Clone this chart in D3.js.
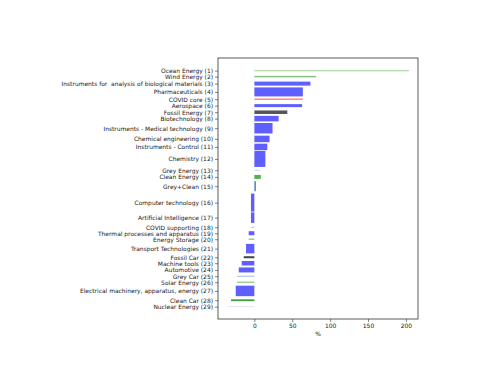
<!DOCTYPE html>
<html>
<head>
<meta charset="utf-8">
<script src="https://cdn.jsdelivr.net/npm/d3@7"></script>
<style>
  body { margin: 0; background: #fff; }
  text { font-family: "DejaVu Sans", sans-serif; }
</style>
</head>
<body>
<div id="chart"></div>
<script>
// categories, top to bottom
var categories = [
  "Ocean Energy (1)", "Wind Energy (2)", "Instruments for  analysis of biological materials (3)",
  "Pharmaceuticals (4)", "COVID core (5)", "Aerospace (6)", "Fossil Energy (7)", "Biotechnology (8)",
  "Instruments - Medical technology (9)", "Chemical engineering (10)", "Instruments - Control (11)",
  "Chemistry (12)", "Grey Energy (13)", "Clean Energy (14)", "Grey+Clean (15)",
  "Computer technology (16)", "Artificial Intelligence (17)", "COVID supporting (18)",
  "Thermal processes and apparatus (19)", "Energy Storage (20)", "Transport Technologies (21)",
  "Fossil Car (22)", "Machine tools (23)", "Automotive (24)", "Grey Car (25)", "Solar Energy (26)",
  "Electrical machinery, apparatus, energy (27)", "Clean Car (28)", "Nuclear Energy (29)"
];
// growth, %
var values = [204, 81.5, 74, 64, 64, 63, 43.5, 32, 24, 20, 17, 14.5, 7.5, 8.5, 2,
  -4.5, -4.5, -4, -7.5, -7.5, -11, -14, -16.7, -20.6, -22.8, -22.8, -24.6, -30.8, -36];
// bar weight (thickness) and cumulative slot along the category axis
var weights = [1.5, 1.5, 4, 9, 1.5, 3, 3.5, 5.5, 10.5, 6.5, 6.5, 16, 1, 4, 10,
  18, 10.5, 1, 4, 1.5, 9.5, 2, 4.5, 5, 1, 1.5, 10.5, 1.8, 1];
var slots = [0, 6, 13, 21.3, 28.6, 35, 41.6, 48, 57.6, 68.3, 76.3, 88.3, 99.6, 106.3, 115.6,
  132, 147, 156.6, 162.6, 168.6, 178, 186.6, 192.6, 199.3, 205.6, 211.6, 220.3, 229.6, 236];
var xTicks = [0, 50, 100, 150, 200];

var colors = ["#b8ddb2", "#85c485", "#5f5fff", "#5f5fff", "#ff8585", "#5f5fff", "#555555", "#5f5fff",
  "#5f5fff", "#5f5fff", "#5f5fff", "#5f5fff", "#cdd6e6", "#55b055", "#4f7fbf",
  "#5f5fff", "#5f5fff", "#ff9a9a", "#5f5fff", "#95cf95", "#5f5fff", "#444444", "#5f5fff", "#5f5fff",
  "#aab8e2", "#9fd29f", "#5f5fff", "#3e9e3e", "#e6e6f4"];

var W = 480, H = 384;
var m = { left: 218, right: 418, top: 58, bottom: 319 };
var fs = 5.95;

var svg = d3.select("#chart").append("svg").attr("width", W).attr("height", H);

var xMin = d3.min(values), xMax = d3.max(values), xPad = (xMax - xMin) * 0.05;
var x = d3.scaleLinear().domain([xMin - xPad, xMax + xPad]).range([m.left, m.right]);

var yLo = slots[0] - weights[0] / 2, yHi = slots[slots.length - 1] + weights[weights.length - 1] / 2;
var yPad = (yHi - yLo) * 0.05;
var y = d3.scaleLinear().domain([yLo - yPad, yHi + yPad]).range([m.top, m.bottom]);

var data = categories.map(function (c, i) {
  return { name: c, v: values[i], w: weights[i], s: slots[i], color: colors[i] };
});

// bars
svg.append("g").selectAll("rect").data(data).enter().append("rect")
  .attr("x", function (d) { return x(Math.min(0, d.v)); })
  .attr("width", function (d) { return Math.abs(x(d.v) - x(0)); })
  .attr("y", function (d) { return y(d.s - d.w / 2); })
  .attr("height", function (d) { return y(d.s + d.w / 2) - y(d.s - d.w / 2); })
  .attr("fill", function (d) { return d.color; });

// frame
svg.append("rect").attr("x", m.left).attr("y", m.top)
  .attr("width", m.right - m.left).attr("height", m.bottom - m.top)
  .attr("fill", "none").attr("stroke", "#333").attr("stroke-width", 0.8);

// y axis
var yAxis = d3.axisLeft(y).tickValues(slots).tickSize(3).tickPadding(2)
  .tickFormat(function (d, i) { return categories[i]; });
var gy = svg.append("g").attr("transform", "translate(" + m.left + ",0)").call(yAxis);
gy.select(".domain").remove();
gy.selectAll("line").attr("stroke", "#333").attr("stroke-width", 0.6);
gy.selectAll("text").attr("font-size", fs).attr("fill", "#1a1a1a").style("white-space", "pre");

// x axis
var xAxis = d3.axisBottom(x).tickValues(xTicks).tickSize(3).tickPadding(2);
var gx = svg.append("g").attr("transform", "translate(0," + m.bottom + ")").call(xAxis);
gx.select(".domain").remove();
gx.selectAll("line").attr("stroke", "#333").attr("stroke-width", 0.6);
gx.selectAll("text").attr("font-size", fs).attr("fill", "#1a1a1a");

svg.append("text").attr("x", (m.left + m.right) / 2).attr("y", m.bottom + 17)
  .attr("text-anchor", "middle").attr("font-size", fs).attr("fill", "#1a1a1a").text("%");
</script>
</body>
</html>
